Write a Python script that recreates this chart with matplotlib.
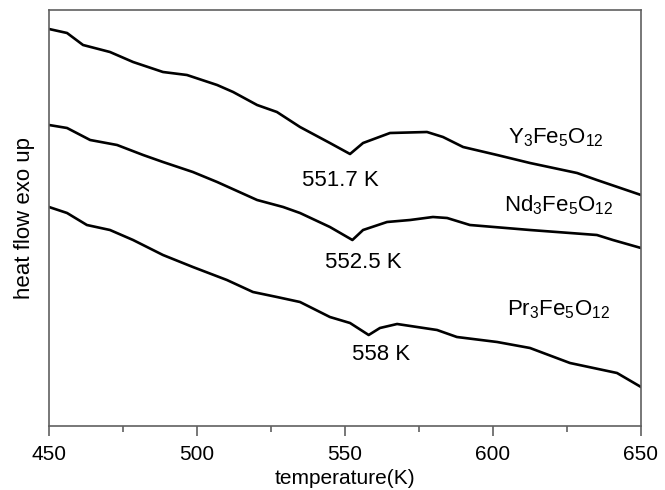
import matplotlib
matplotlib.use('Agg')
import matplotlib.pyplot as plt
from matplotlib.ticker import MultipleLocator

plt.rcParams['font.family'] = ['Liberation Sans', 'DejaVu Sans']
plt.rcParams['mathtext.fontset'] = 'custom'
plt.rcParams['mathtext.rm'] = 'Liberation Sans'
plt.rcParams['mathtext.it'] = 'Liberation Sans'
plt.rcParams['mathtext.bf'] = 'Liberation Sans'

# DSC traces (heat flow in arbitrary units)
t_y = [450, 456.1, 461.5, 470.6, 478.4, 488.5, 496.6, 506.8, 512.2, 520.3, 527.0,
       534.8, 544.9, 551.7, 556.1, 565.2, 577.7, 583.1, 589.9, 601.4, 612.5,
       628.4, 635.1, 650]
hf_y = [397, 393, 381, 374, 364, 354, 351, 341, 334, 321, 314,
        299, 283, 272, 283, 293, 294, 289, 279, 271, 263,
        253, 246, 231]

t_nd = [450, 456.1, 463.9, 473.0, 481.8, 488.5, 498.6, 506.8, 520.3, 529.1, 534.8,
        544.9, 552.5, 556.1, 564.2, 572.0, 579.7, 584.5, 592.2, 612.5, 635.1,
        640.5, 650]
hf_nd = [301, 298, 286, 281, 271, 264, 254, 244, 226, 219, 213,
         199, 186, 196, 204, 206, 209, 208, 201, 196, 191,
         186, 178]

t_pr = [450, 456.1, 462.8, 470.6, 478.4, 488.5, 498.6, 510.1, 518.9, 527.0, 534.8,
        544.9, 551.7, 558, 561.8, 567.6, 581.1, 587.8, 601.4, 612.5, 626.0,
        641.9, 650]
hf_pr = [219, 213, 201, 196, 186, 171, 159, 146, 134, 129, 124,
         109, 103, 91, 98, 102, 96, 89, 84, 78, 63,
         53, 39]

fig = plt.figure(figsize=(6.65, 4.9), dpi=100)
ax = fig.add_axes([49/665, 64/490, 592/665, 416/490])

for t, hf in [(t_y, hf_y), (t_nd, hf_nd), (t_pr, hf_pr)]:
    ax.plot(t, hf, color='black', lw=1.9, solid_joinstyle='round')

fs = 16
ax.text(548.3, 246, '551.7 K', ha='center', va='center', fontsize=fs)
ax.text(556.1, 163, '552.5 K', ha='center', va='center', fontsize=fs)
ax.text(562.2, 71, '558 K', ha='center', va='center', fontsize=fs)

ax.text(605.2, 283, r'Y$_3$Fe$_5$O$_{12}$', ha='left', va='baseline', fontsize=fs)
ax.text(603.6, 215, r'Nd$_3$Fe$_5$O$_{12}$', ha='left', va='baseline', fontsize=fs)
ax.text(604.6, 111, r'Pr$_3$Fe$_5$O$_{12}$', ha='left', va='baseline', fontsize=fs)

ax.set_xlim(450, 650)
ax.set_ylim(0, 416)
ax.xaxis.set_major_locator(MultipleLocator(50))
ax.xaxis.set_minor_locator(MultipleLocator(25))
ax.set_yticks([])

spine_c = '#606060'
for s in ax.spines.values():
    s.set_color(spine_c)
    s.set_linewidth(1.2)
ax.tick_params(axis='x', which='major', direction='out', length=7, width=1.2,
               color=spine_c, labelsize=15, pad=7)
ax.tick_params(axis='x', which='minor', direction='out', length=4, width=1.2,
               color=spine_c)

ax.set_xlabel('temperature(K)', fontsize=15, labelpad=3)
ax.set_ylabel('heat flow exo up', fontsize=16, labelpad=10)

fig.savefig('out.png', dpi=100)
